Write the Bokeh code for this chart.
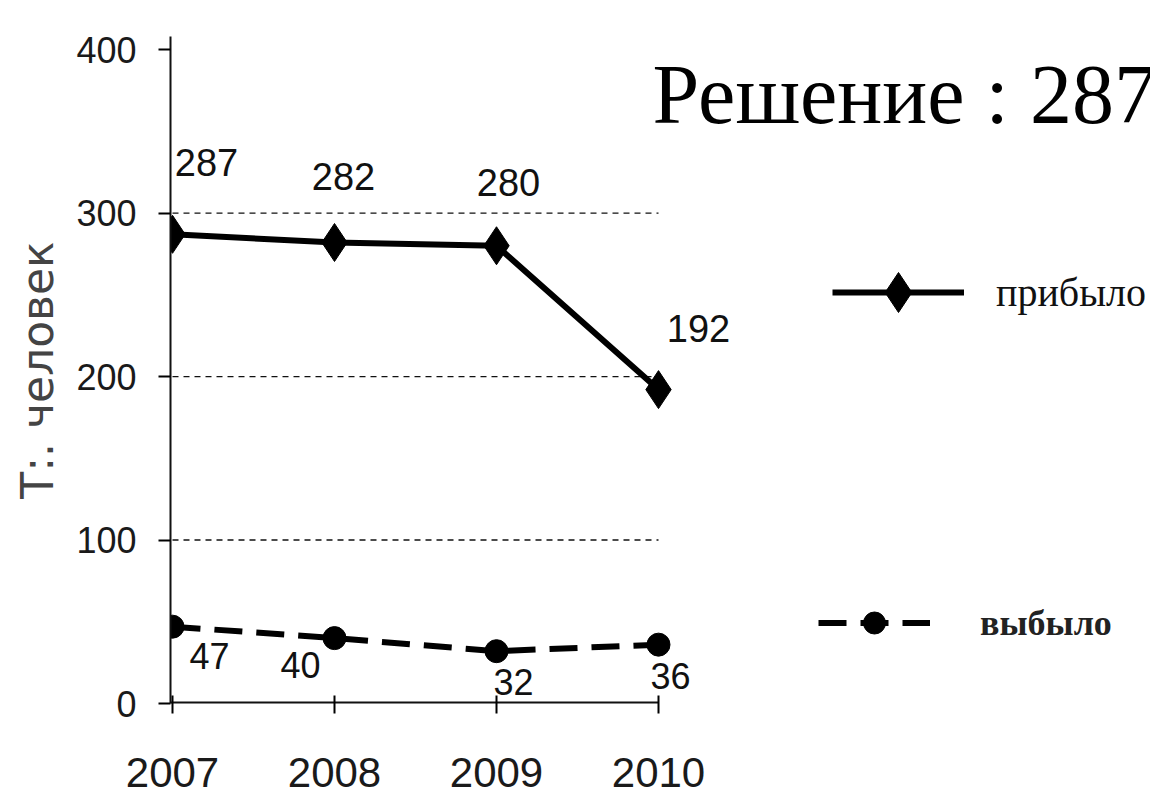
from bokeh.plotting import figure
from bokeh.models import FixedTicker, Legend, LegendItem, Label, Range1d, ColumnDataSource
from bokeh.core.properties import value
from bokeh.embed import file_html
from bokeh.resources import INLINE

# ---- data ----
years = [2007, 2008, 2009, 2010]
arrived = [287, 282, 280, 192]
departed = [47, 40, 32, 36]
y_ticks = [0, 100, 200, 300, 400]
grid_values = [100, 200, 300]
arrived_label = "прибыло"
departed_label = "выбыло"
y_title = "Т:. человек"
note = "Решение : 287"

# ---- style: per-label offsets (pixels) ----
arrived_dx = [34, 9, 12, 40]
arrived_dy = [-58, -52, -50, -48]
departed_dx = [37, -34, 17, 12]
departed_dy = [16, 14, 18, 18]

SANS = "Liberation Sans"

W, H = 1150, 801
left, top, bottom = 170, 36, 703
x0 = years[0] - 2 / 162
x1 = x0 + (W - left) / 162
y0, y1 = 0, 408

p = figure(width=W, height=H, output_backend="svg", toolbar_location=None,
           x_range=Range1d(x0, x1), y_range=Range1d(y0, y1),
           min_border_left=left, min_border_right=0, min_border_top=top,
           min_border_bottom=H - bottom)
p.outline_line_color = None
p.background_fill_color = "white"
p.border_fill_color = "white"

# axes
p.xaxis.ticker = FixedTicker(ticks=years)
p.yaxis.ticker = FixedTicker(ticks=y_ticks)
p.xaxis.axis_line_color = None
p.yaxis.axis_line_width = 2
p.yaxis.axis_line_color = "#111111"
p.xaxis.major_tick_in = 8
p.xaxis.major_tick_out = 10
p.xaxis.major_tick_line_width = 2
p.yaxis.major_tick_in = 0
p.yaxis.major_tick_out = 12
p.yaxis.major_tick_line_width = 2
p.xaxis.minor_tick_line_color = None
p.yaxis.minor_tick_line_color = None
p.xaxis.major_label_text_font = SANS
p.xaxis.major_label_text_font_size = "42px"
p.xaxis.major_label_text_color = "#1a1a1a"
p.xaxis.major_label_standoff = 44
p.yaxis.major_label_text_font = SANS
p.yaxis.major_label_text_font_size = "36px"
p.yaxis.major_label_text_color = "#1a1a1a"
p.yaxis.major_label_standoff = 22
p.yaxis.axis_label = y_title
p.yaxis.axis_label_text_font = "DejaVu Sans"
p.yaxis.axis_label_text_font_size = "44px"
p.yaxis.axis_label_text_font_style = "normal"
p.yaxis.axis_label_text_color = "#444444"
p.yaxis.axis_label_standoff = 10

p.xgrid.visible = False
p.ygrid.visible = False

# x axis baseline and dashed grid lines, limited to the data span
p.segment(x0=[x0], x1=[years[-1]], y0=[0], y1=[0], line_width=4, line_color="#111111")
p.segment(x0=[years[0]] * len(grid_values), x1=[years[-1]] * len(grid_values),
          y0=grid_values, y1=grid_values, line_width=1.3, line_color="#111111",
          line_dash="6 5")

# series
src = ColumnDataSource(dict(x=years, a=arrived, d=departed,
                            at=[str(v) for v in arrived], dt=[str(v) for v in departed],
                            adx=arrived_dx, ady=arrived_dy, ddx=departed_dx, ddy=departed_dy))
l1 = p.line("x", "a", source=src, line_width=6, line_color="black")
s1 = p.scatter("x", "a", source=src, marker="diamond", size=38,
               fill_color="black", line_color="black")
l2 = p.line("x", "d", source=src, line_width=6, line_color="black", line_dash="28 14")
s2 = p.scatter("x", "d", source=src, marker="circle", size=23,
               fill_color="black", line_color="black")

p.text("x", "a", text="at", source=src, text_font=value(SANS), text_font_size="38px",
       text_color="#111111", text_align="center", text_baseline="bottom",
       x_offset="adx", y_offset="ady")
p.text("x", "d", text="dt", source=src, text_font=value(SANS), text_font_size="36px",
       text_color="#111111", text_align="center", text_baseline="top",
       x_offset="ddx", y_offset="ddy")

# legends (two separate blocks)
leg1 = Legend(items=[LegendItem(label=arrived_label, renderers=[l1, s1])],
              location=(832 - left, (bottom - 292) - 50), padding=0, margin=0, spacing=0,
              glyph_width=132, glyph_height=100, label_height=100,
              label_standoff=32, border_line_color=None, background_fill_alpha=0,
              label_text_font="Liberation Serif", label_text_font_size="40px",
              label_text_color="#111111")
leg2 = Legend(items=[LegendItem(label=departed_label, renderers=[l2, s2])],
              location=(818 - left, (bottom - 623) - 27), padding=0, margin=0, spacing=0,
              glyph_width=112, glyph_height=55, label_height=55,
              label_standoff=50, border_line_color=None, background_fill_alpha=0,
              label_text_font="Liberation Serif", label_text_font_size="36px",
              label_text_font_style="bold", label_text_color="#222222")
p.add_layout(leg1, "center")
p.add_layout(leg2, "center")

# note text at the top right (cut by the right edge, as in the source)
px_per_x = 162
px_per_y = (bottom - top) / (y1 - y0)
note_x = x0 + (652 - left) / px_per_x
note_y = (bottom - 94) / px_per_y
p.add_layout(Label(x=note_x, y=note_y, text=note, text_font="Liberation Serif",
                   text_font_size="84px", text_color="black",
                   text_baseline="alphabetic", text_align="left"))

open("out.html", "w").write(file_html(p, INLINE))
